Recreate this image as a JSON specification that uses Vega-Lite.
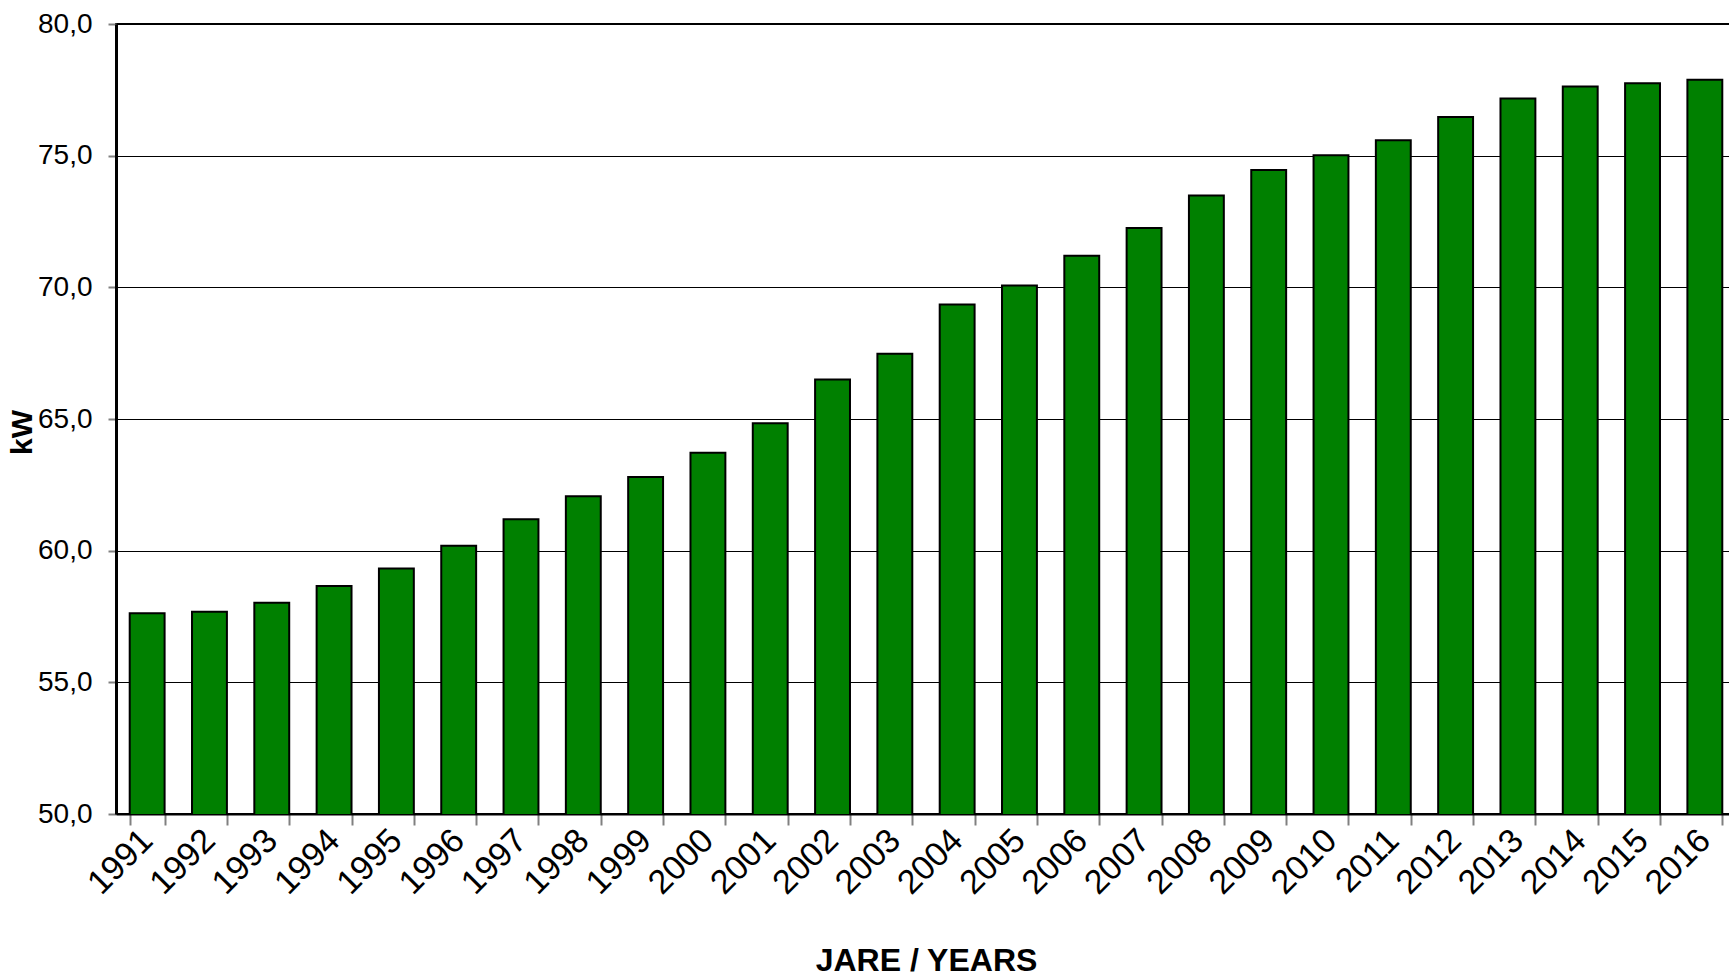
{
  "$schema": "https://vega.github.io/schema/vega-lite/v6.json",
  "autosize": "none",
  "width": 1620,
  "height": 790,
  "padding": {"left": 116, "top": 24, "right": 0, "bottom": 165},
  "background": "white",
  "config": {
    "font": "Liberation Sans",
    "view": {"stroke": "black", "strokeWidth": 2}
  },
  "data": {
    "values": [
      {"year": "1991", "kw": 57.62},
      {"year": "1992", "kw": 57.68},
      {"year": "1993", "kw": 58.02},
      {"year": "1994", "kw": 58.66},
      {"year": "1995", "kw": 59.32},
      {"year": "1996", "kw": 60.19},
      {"year": "1997", "kw": 61.19},
      {"year": "1998", "kw": 62.07},
      {"year": "1999", "kw": 62.8},
      {"year": "2000", "kw": 63.72},
      {"year": "2001", "kw": 64.84},
      {"year": "2002", "kw": 66.5},
      {"year": "2003", "kw": 67.48},
      {"year": "2004", "kw": 69.35},
      {"year": "2005", "kw": 70.07},
      {"year": "2006", "kw": 71.2},
      {"year": "2007", "kw": 72.25},
      {"year": "2008", "kw": 73.49},
      {"year": "2009", "kw": 74.46},
      {"year": "2010", "kw": 75.02},
      {"year": "2011", "kw": 75.59},
      {"year": "2012", "kw": 76.47},
      {"year": "2013", "kw": 77.17},
      {"year": "2014", "kw": 77.63},
      {"year": "2015", "kw": 77.75},
      {"year": "2016", "kw": 77.88}
    ]
  },
  "mark": {"type": "bar", "color": "#008000", "stroke": "black", "strokeWidth": 2, "clip": true},
  "encoding": {
    "x": {
      "field": "year",
      "type": "ordinal",
      "scale": {"paddingInner": 0.44, "paddingOuter": 0.22},
      "axis": {
        "title": "JARE / YEARS",
        "titleFontSize": 32,
        "titleFontWeight": "bold",
        "titleColor": "black",
        "titlePadding": 45,
        "labelAngle": -45,
        "labelAlign": "right",
        "labelBaseline": "middle",
        "labelFontSize": 34,
        "labelColor": "black",
        "labelPadding": 10,
        "tickBand": "extent",
        "tickSize": 11,
        "tickColor": "#808080",
        "tickWidth": 2,
        "domainColor": "black",
        "domainWidth": 2,
        "grid": false
      }
    },
    "y": {
      "field": "kw",
      "type": "quantitative",
      "scale": {"domain": [50, 80], "zero": false, "nice": false},
      "axis": {
        "title": "kW",
        "titleFontSize": 30,
        "titleFontWeight": "bold",
        "titleColor": "black",
        "titleX": -94,
        "titleY": 408,
        "titleBaseline": "middle",
        "values": [50, 55, 60, 65, 70, 75, 80],
        "labelExpr": "replace(format(datum.value, '.1f'), '.', ',')",
        "labelFontSize": 28,
        "labelColor": "black",
        "labelPadding": 16,
        "tickSize": 8,
        "tickColor": "#808080",
        "tickWidth": 2,
        "domainColor": "black",
        "domainWidth": 3,
        "grid": true,
        "gridColor": "black",
        "gridWidth": 1,
        "gridOpacity": 1
      }
    }
  }
}
